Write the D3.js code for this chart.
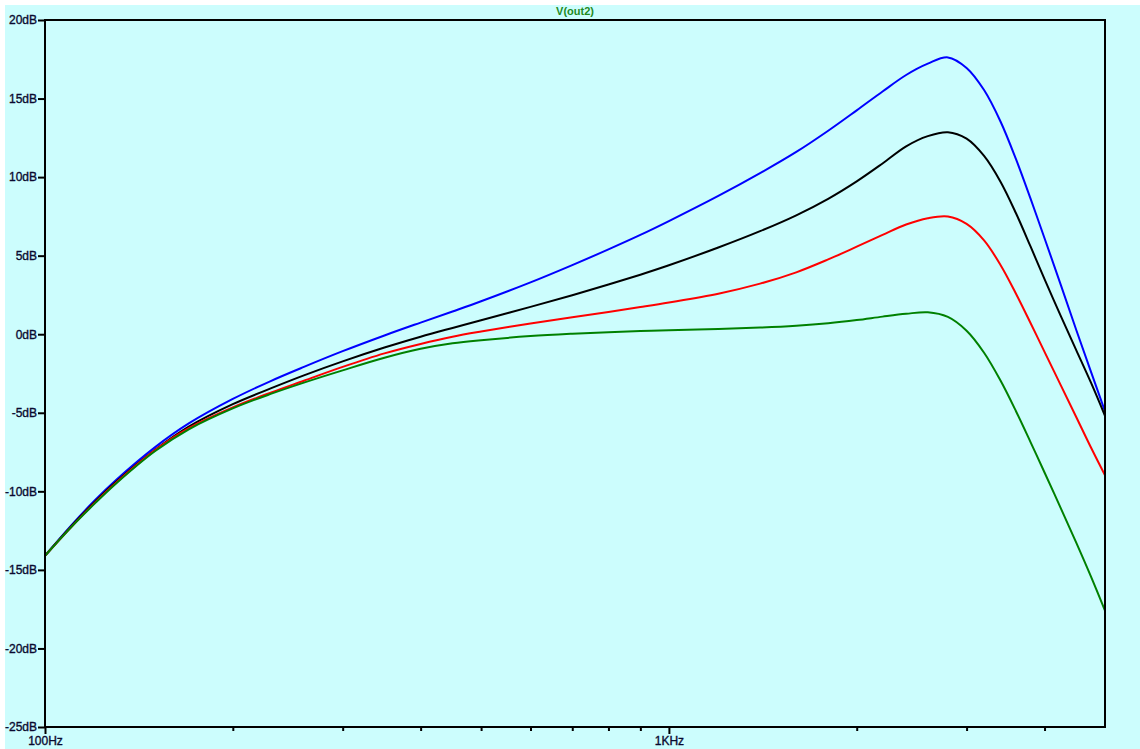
<!DOCTYPE html>
<html>
<head>
<meta charset="utf-8">
<script src="https://cdn.jsdelivr.net/npm/d3@7"></script>
<style>
  body { margin: 0; background: #fff; }
  svg { display: block; }
</style>
</head>
<body>
<div id="chart"></div>
<script>
// frequency points (Hz) shared by every trace
var freqs = [100, 110, 120, 130, 150, 170, 200, 230, 260, 300, 350, 400, 450, 500,
  600, 700, 800, 900, 1000, 1200, 1400, 1600, 1800, 2000, 2200, 2400, 2600, 2800,
  3000, 3200, 3400, 3600, 3800, 4000, 4250, 4500, 4750, 5000];

// V(out2) in dB, one list per trace
var blueDb = [-14.1, -12.2, -10.6, -9.28, -7.2, -5.68, -4.12, -2.98, -2.08, -1.08, -0.08, 0.74, 1.45, 2.1,
  3.3, 4.4, 5.4, 6.32, 7.2, 8.8, 10.25, 11.6, 12.95, 14.25, 15.45, 16.5, 17.22, 17.62,
  16.95, 15.54, 13.54, 11.14, 8.61, 6.11, 3.11, 0.24, -2.41, -4.91];
var blackDb = [-14.1, -12.25, -10.69, -9.39, -7.37, -5.88, -4.45, -3.45, -2.62, -1.73, -0.85, -0.16, 0.4, 0.89,
  1.74, 2.48, 3.16, 3.79, 4.39, 5.52, 6.56, 7.57, 8.62, 9.73, 10.87, 11.96, 12.61, 12.86,
  12.45, 11.35, 9.71, 7.7, 5.57, 3.51, 1.13, -1.04, -3.1, -5.19];
var redDb = [-14.1, -12.3, -10.75, -9.45, -7.39, -5.98, -4.66, -3.72, -2.96, -2.08, -1.22, -0.62, -0.16, 0.17,
  0.68, 1.08, 1.42, 1.73, 2.02, 2.58, 3.22, 3.94, 4.76, 5.57, 6.32, 6.98, 7.38, 7.49,
  7.02, 5.97, 4.41, 2.58, 0.7, -1.12, -3.27, -5.3, -7.23, -8.98];
var greenDb = [-14.1, -12.3, -10.8, -9.5, -7.45, -6.05, -4.72, -3.8, -3.08, -2.3, -1.5, -0.93, -0.58, -0.38,
  -0.12, 0.03, 0.13, 0.2, 0.25, 0.33, 0.42, 0.54, 0.7, 0.9, 1.12, 1.3, 1.4, 1.1,
  0.22, -1.18, -2.95, -4.9, -6.88, -8.8, -11.1, -13.3, -15.45, -17.6];

var traces = [
  {name: "blue", color: "#0000ff", values: blueDb},
  {name: "black", color: "#000000", values: blackDb},
  {name: "red", color: "#ff0000", values: redDb},
  {name: "green", color: "#008000", values: greenDb}
];

var yTicks = [-25, -20, -15, -10, -5, 0, 5, 10, 15, 20];
var xMajor = [100, 1000];
var xMinor = [200, 300, 400, 500, 600, 700, 800, 900, 2000, 3000, 4000];
var xLabels = ["100Hz", "1KHz"];
var title = "V(out2)";

var W = 1140, H = 749;
var margin = {top: 20, right: 35, bottom: 22, left: 45};

var x = d3.scaleLog()
    .domain([100, 5000])
    .range([margin.left, W - margin.right]);
var y = d3.scaleLinear()
    .domain([-25, 20])
    .range([H - margin.bottom, margin.top]);

var svg = d3.select("#chart").append("svg")
    .attr("width", W)
    .attr("height", H);

// plot background
svg.append("rect")
    .attr("x", 5).attr("y", 5)
    .attr("width", W - 5).attr("height", H - 5)
    .attr("fill", "#ccfdfd");

svg.append("text")
    .attr("x", (x.range()[0] + x.range()[1]) / 2)
    .attr("y", 15)
    .attr("text-anchor", "middle")
    .style("font-family", "'Liberation Sans', Arial, sans-serif")
    .style("font-size", "11px")
    .style("font-weight", "bold")
    .attr("fill", "#1e8a1e")
    .text(title);

// y axis ticks + labels
svg.append("g")
    .attr("transform", "translate(" + margin.left + ",0)")
    .call(d3.axisLeft(y).tickValues(yTicks).tickSize(7).tickPadding(1)
      .tickFormat(function(d) { return d + "dB"; }));

// x axis: major ticks with labels, minor ticks plain
svg.append("g")
    .attr("transform", "translate(0," + y.range()[0] + ")")
    .call(d3.axisBottom(x).tickValues(xMajor).tickSize(7).tickPadding(2)
      .tickFormat(function(d, i) { return xLabels[i]; }));
svg.append("g")
    .attr("transform", "translate(0," + y.range()[0] + ")")
    .call(d3.axisBottom(x).tickValues(xMinor).tickSize(4).tickFormat(""));

svg.selectAll(".domain").remove();
svg.selectAll(".tick line")
    .attr("stroke", "#000")
    .attr("stroke-width", 2);
svg.selectAll(".tick text")
    .attr("fill", "#0a0a30")
    .attr("stroke", "#0a0a30")
    .attr("stroke-width", 0.35)
    .style("font-family", "'Liberation Sans', Arial, sans-serif")
    .style("font-size", "12px");

// traces
var line = d3.line()
    .x(function(d) { return x(d[0]); })
    .y(function(d) { return y(d[1]); })
    .curve(d3.curveCatmullRom.alpha(0.5));

svg.append("g")
  .selectAll("path")
  .data(traces)
  .enter().append("path")
    .attr("fill", "none")
    .attr("stroke", function(d) { return d.color; })
    .attr("stroke-width", 2)
    .attr("stroke-linejoin", "round")
    .attr("d", function(d) {
      return line(freqs.map(function(f, i) { return [f, d.values[i]]; }));
    });

// plot frame
svg.append("rect")
    .attr("x", x.range()[0])
    .attr("y", y.range()[1])
    .attr("width", x.range()[1] - x.range()[0])
    .attr("height", y.range()[0] - y.range()[1])
    .attr("fill", "none")
    .attr("stroke", "#000")
    .attr("stroke-width", 2);
</script>
</body>
</html>
